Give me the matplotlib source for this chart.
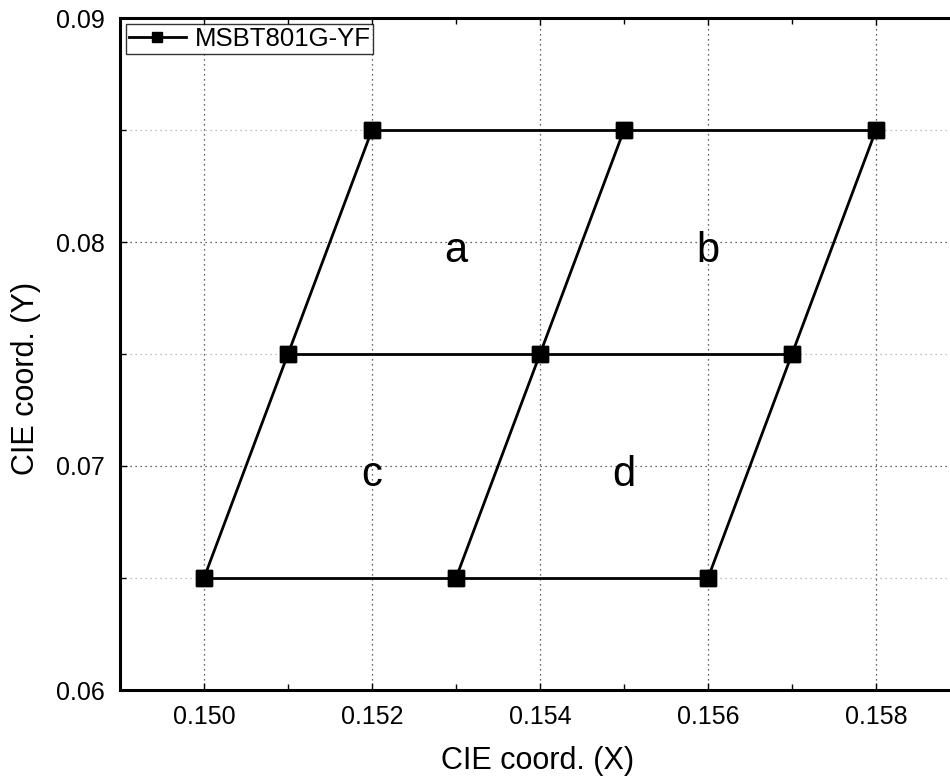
import matplotlib
matplotlib.use("Agg")
import matplotlib.pyplot as plt
from matplotlib.ticker import MultipleLocator, FormatStrFormatter

# ---- data ----
series_name = "MSBT801G-YF"
x_pts = [0.150, 0.153, 0.156, 0.151, 0.154, 0.157, 0.152, 0.155, 0.158]
y_pts = [0.065, 0.065, 0.065, 0.075, 0.075, 0.075, 0.085, 0.085, 0.085]
rows = [[0, 1, 2], [3, 4, 5], [6, 7, 8]]
cols = [[0, 3, 6], [1, 4, 7], [2, 5, 8]]
region_labels = ["a", "b", "c", "d"]
region_x = [0.153, 0.156, 0.152, 0.155]
region_y = [0.0791, 0.0791, 0.0691, 0.0691]
x_ticks = [0.150, 0.152, 0.154, 0.156, 0.158]
y_ticks = [0.06, 0.07, 0.08, 0.09]

plt.rcParams['font.family'] = ['Liberation Sans', 'DejaVu Sans']

fig = plt.figure(figsize=(9.5, 7.81), dpi=100)
W, H = 950, 781
left, right, top, bottom = 120, 960, 18, 690
ax = fig.add_axes([left / W, 1 - bottom / H, (right - left) / W, (bottom - top) / H])

ax.set_xlim(0.149, 0.159)
ax.set_ylim(0.06, 0.09)

first = True
for seg in rows + cols:
    ax.plot([x_pts[i] for i in seg], [y_pts[i] for i in seg], color='black',
            lw=2.0, marker='s', markersize=11, markerfacecolor='black',
            markeredgecolor='black', zorder=3,
            label=series_name if first else None)
    first = False

for t, x, y in zip(region_labels, region_x, region_y):
    ax.text(x, y, t, ha='center', va='baseline', fontsize=30, color='black')

ax.set_xticks(x_ticks)
ax.set_yticks(y_ticks)
ax.xaxis.set_major_formatter(FormatStrFormatter('%.3f'))
ax.yaxis.set_major_formatter(FormatStrFormatter('%.2f'))
ax.xaxis.set_minor_locator(MultipleLocator(0.001))
ax.yaxis.set_minor_locator(MultipleLocator(0.005))
ax.tick_params(which='both', direction='in', top=True, right=True)
ax.tick_params(which='major', length=5, width=1, labelsize=18, pad=11)
ax.tick_params(which='minor', length=4, width=1)
ax.tick_params(axis='y', which='major', pad=11)

ax.grid(which='major', axis='both', color='#333333', linestyle=(0, (1, 3)), lw=0.9)
ax.grid(which='minor', axis='y', color='#aaaaaa', linestyle=(0, (1, 3)), lw=0.9)
ax.set_axisbelow(True)

for s in ax.spines.values():
    s.set_linewidth(2.2)

ax.set_xlabel("CIE coord. (X)", fontsize=22)
ax.set_ylabel("CIE coord. (Y)", fontsize=22)
ax.xaxis.set_label_coords(0.497, -0.083)
ax.yaxis.set_label_coords(-0.094, 0.464)

leg = ax.legend(loc='upper left', fontsize=18.5, frameon=True, fancybox=False,
                edgecolor='black', borderaxespad=0.25, borderpad=0.1,
                handlelength=2.2, handletextpad=0.35, markerscale=0.7)
leg.get_frame().set_linewidth(1.0)

fig.savefig("out.png", dpi=100)
